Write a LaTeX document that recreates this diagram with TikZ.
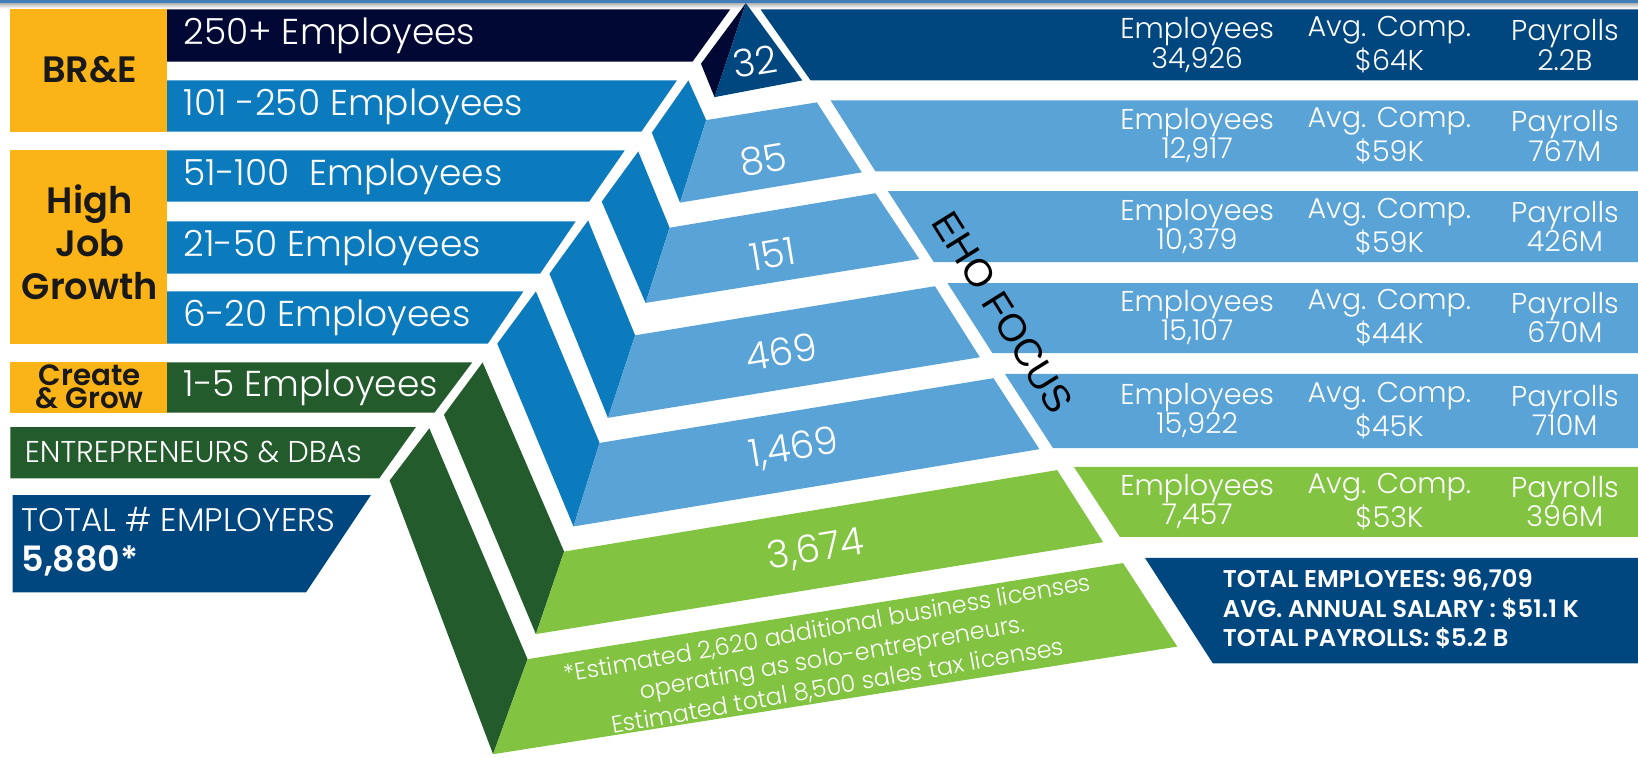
\documentclass[tikz,border=0pt]{standalone}
\usepackage{fontspec}
\setmainfont{Poppins}[UprightFont = {* Light}, BoldFont = {* SemiBold}]
\newfontfamily\ehofont{Liberation Sans}
\definecolor{brgold}{HTML}{FBB417}
\definecolor{deepnavy}{HTML}{010833}
\definecolor{navy}{HTML}{00467F}
\definecolor{midblue}{HTML}{0C7BBD}
\definecolor{skyblue}{HTML}{5AA3D6}
\definecolor{pine}{HTML}{235B2D}
\definecolor{lime}{HTML}{82C341}
\definecolor{topline}{HTML}{3F7CB8}
\tikzset{
  barname/.style = {anchor = west, text = white, inner sep = 0pt, font = \fontsize{9.8}{12}\selectfont},
  groupname/.style = {align = center, inner sep = 0pt, text = black!90, font = \bfseries\fontsize{10}{11.7}\selectfont},
  tiercount/.style = {text = white, rotate = 9.4, inner sep = 0pt, font = \fontsize{10.4}{12}\selectfont},
  statcell/.style = {text = white, align = center, inner sep = 0pt, font = \fontsize{7.8}{8}\selectfont}
}
\begin{document}
\begin{tikzpicture}[x = 0.1mm, y = -0.1mm]
      \useasboundingbox (0, 0) rectangle (1568, 725);
      \fill [topline] (0, 0) rectangle (1568, 3);
      \shade [top color = black!30, bottom color = white] (0, 3) rectangle (1568, 8);
      \fill [brgold] (10, 9) rectangle (160, 126);
      \fill [deepnavy] (160, 9) -- (699, 9) -- (663, 59) -- (160, 59) -- cycle;
      \fill [midblue] (160, 77) -- (648, 77) -- (614, 126) -- (160, 126) -- cycle;
      \fill [brgold] (10, 144) rectangle (160, 329);
      \fill [midblue] (160, 144) -- (598, 144) -- (564, 193) -- (160, 193) -- cycle;
      \fill [midblue] (160, 212) -- (551, 212) -- (517, 262) -- (160, 262) -- cycle;
      \fill [midblue] (160, 279) -- (501, 279) -- (467, 329) -- (160, 329) -- cycle;
      \fill [brgold] (10, 347) rectangle (160, 395);
      \fill [pine] (160, 347) -- (452, 347) -- (416, 395) -- (160, 395) -- cycle;
      \fill [pine] (10, 409) -- (398, 409) -- (363, 458) -- (10, 458) -- cycle;
      \fill [navy] (12, 474) -- (355, 474) -- (293, 567) -- (12, 567) -- cycle;
      \fill [deepnavy] (714, 3) -- (671, 61) -- (684, 93) -- cycle;
      \fill [navy] (714, 3) -- (768, 77) -- (684, 93) -- cycle;
      \fill [midblue] (659, 77) -- (676, 115) -- (651, 194) -- (624, 127) -- cycle;
      \fill [skyblue] (676, 115) -- (782, 98) -- (825, 165) -- (651, 194) -- cycle;
      \fill [midblue] (611, 145) -- (641, 218) -- (618, 290) -- (576, 193) -- cycle;
      \fill [skyblue] (641, 218) -- (838, 185) -- (880, 248) -- (618, 290) -- cycle;
      \fill [midblue] (563, 211) -- (608, 321) -- (582, 400) -- (526, 262) -- cycle;
      \fill [skyblue] (608, 321) -- (895, 274) -- (938, 342) -- (582, 400) -- cycle;
      \fill [midblue] (513, 279) -- (574, 424) -- (549, 504) -- (476, 329) -- cycle;
      \fill [skyblue] (574, 424) -- (951, 362) -- (995, 430) -- (549, 504) -- cycle;
      \fill [pine] (462, 347) -- (540, 528) -- (513, 607) -- (425, 397) -- cycle;
      \fill [lime] (540, 528) -- (1012, 450) -- (1056, 519) -- (513, 607) -- cycle;
      \fill [pine] (411, 410) -- (505, 631) -- (472, 722) -- (373, 460) -- cycle;
      \fill [lime] (505, 631) -- (1075, 539) -- (1127, 619) -- (472, 722) -- cycle;
      \fill [navy] (728, 9) -- (1568, 9) -- (1568, 77) -- (776, 77) -- cycle;
      \fill [skyblue] (795, 96) -- (1568, 96) -- (1568, 164) -- (838, 164) -- cycle;
      \fill [skyblue] (850, 183) -- (1568, 183) -- (1568, 251) -- (894, 251) -- cycle;
      \fill [skyblue] (907, 271) -- (1568, 271) -- (1568, 338) -- (950, 338) -- cycle;
      \fill [skyblue] (962, 358) -- (1568, 358) -- (1568, 429) -- (1008, 429) -- cycle;
      \fill [lime] (1028, 447) -- (1568, 447) -- (1568, 514) -- (1072, 514) -- cycle;
      \fill [navy] (1096, 534) -- (1568, 534) -- (1568, 635) -- (1161, 635) -- cycle;
      \node [groupname] (bre) at (86, 67) {BR\&E};
      \node [groupname] (growth) at (86, 232) {High\\Job\\Growth};
      \node [groupname, font = \bfseries\fontsize{8}{6.2}\selectfont] (create) at (86, 370) {Create\\\& Grow};
      \node [barname] (big) at (175, 34) {250+ Employees};
      \node [barname] (large) at (175, 102) {101 -250 Employees};
      \node [barname] (upper) at (175, 169) {51-100\ \ Employees};
      \node [barname] (middle) at (175, 237) {21-50 Employees};
      \node [barname] (lower) at (175, 304) {6-20 Employees};
      \node [barname] (small) at (175, 371) {1-5 Employees};
      \node [barname, font = \fontsize{8.2}{9}\selectfont] (solo) at (23, 433) {ENTREPRENEURS \& DBAs};
      \node [barname, font = \fontsize{8.9}{10}\selectfont] (employers) at (20, 497) {TOTAL \# EMPLOYERS};
      \node [barname, font = \bfseries\fontsize{9.5}{11}\selectfont] (employersum) at (20, 537) {5,880*};
      \node [tiercount] (tier1) at (723, 59) {32};
      \node [tiercount] (tier2) at (731, 153) {85};
      \node [tiercount] (tier3) at (740, 243) {151};
      \node [tiercount] (tier4) at (748, 337) {469};
      \node [tiercount] (tier5) at (760, 430) {1,469};
      \node [tiercount] (tier6) at (781, 527) {3,674};
      \node [tiercount, rotate = 0.6, align = center, font = \fontsize{6.5}{8}\selectfont] (note) at (797, 630) {*Estimated 2,620 additional business licenses\\operating as solo-entrepreneurs.\\Estimated total 8,500 sales tax licenses};
      \node [rotate = -58, inner sep = 0pt, font = \ehofont\fontsize{10.5}{12}\selectfont] (focus) at (960, 299) {EHO FOCUS};
      \node [statcell] (staff1) at (1146, 43) {Employees\\34,926};
      \node [statcell] (comp1) at (1330, 43) {Avg. Comp.\\\$64K};
      \node [statcell] (pay1) at (1498, 43) {Payrolls\\2.2B};
      \node [statcell] (staff2) at (1146, 130) {Employees\\12,917};
      \node [statcell] (comp2) at (1330, 130) {Avg. Comp.\\\$59K};
      \node [statcell] (pay2) at (1498, 130) {Payrolls\\767M};
      \node [statcell] (staff3) at (1146, 217) {Employees\\10,379};
      \node [statcell] (comp3) at (1330, 217) {Avg. Comp.\\\$59K};
      \node [statcell] (pay3) at (1498, 217) {Payrolls\\426M};
      \node [statcell] (staff4) at (1146, 304) {Employees\\15,107};
      \node [statcell] (comp4) at (1330, 304) {Avg. Comp.\\\$44K};
      \node [statcell] (pay4) at (1498, 304) {Payrolls\\670M};
      \node [statcell] (staff5) at (1146, 393) {Employees\\15,922};
      \node [statcell] (comp5) at (1330, 393) {Avg. Comp.\\\$45K};
      \node [statcell] (pay5) at (1498, 393) {Payrolls\\710M};
      \node [statcell] (staff6) at (1146, 480) {Employees\\7,457};
      \node [statcell] (comp6) at (1330, 480) {Avg. Comp.\\\$53K};
      \node [statcell] (pay6) at (1498, 480) {Payrolls\\396M};
      \node [anchor = west, align = left, inner sep = 0pt, text = white, font = \bfseries\fontsize{6.6}{8}\selectfont] (totals) at (1170, 583) {TOTAL EMPLOYEES: 96,709\\AVG. ANNUAL SALARY : \$51.1 K\\TOTAL PAYROLLS: \$5.2 B};
    \end{tikzpicture}
\end{document}
